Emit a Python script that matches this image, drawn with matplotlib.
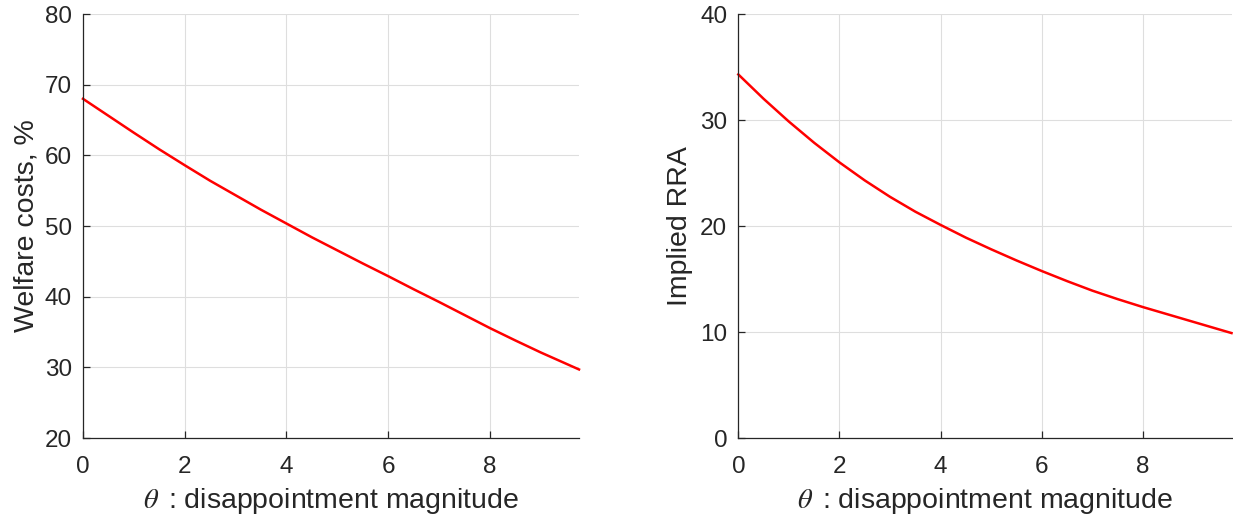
import matplotlib.pyplot as plt

# values
theta = [0, 0.5, 1, 1.5, 2, 2.5, 3, 3.5, 4, 4.5, 5, 5.5, 6, 6.5, 7, 7.5, 8, 8.5, 9, 9.5, 9.75]
welfare_costs = [68.0, 65.6, 63.2, 60.85, 58.6, 56.4, 54.35, 52.3, 50.35, 48.4, 46.55,
                 44.7, 42.9, 41.05, 39.25, 37.4, 35.55, 33.8, 32.1, 30.5, 29.7]
implied_rra = [34.3, 32.0, 29.85, 27.85, 26.0, 24.3, 22.75, 21.35, 20.1, 18.9, 17.8,
               16.75, 15.75, 14.8, 13.9, 13.1, 12.35, 11.65, 10.95, 10.25, 9.9]

x_ticks = [0, 2, 4, 6, 8]
xlabel = r"$\theta\,$ : disappointment magnitude"

plt.rcParams["font.family"] = ["Liberation Sans", "DejaVu Sans"]
plt.rcParams["mathtext.fontset"] = "stix"

TXT = "#262626"
GRID = "#dedede"

fig = plt.figure(figsize=(12.33, 5.21), dpi=100)
ax1 = fig.add_axes([0.0673, 0.1593, 0.4023, 0.8138])
ax2 = fig.add_axes([0.5988, 0.1593, 0.4000, 0.8138])


def style(ax, ylim, yticks, ylabel, ypad):
    ax.set_xlim(0, 9.75)
    ax.set_ylim(*ylim)
    ax.set_xticks(x_ticks)
    ax.set_yticks(yticks)
    ax.grid(True, color=GRID, linewidth=0.8)
    ax.set_axisbelow(True)
    for s in ("top", "right"):
        ax.spines[s].set_visible(False)
    for s in ("left", "bottom"):
        ax.spines[s].set_color(TXT)
        ax.spines[s].set_linewidth(0.9)
    ax.tick_params(direction="in", length=5, width=0.9, colors=TXT, labelsize=17.5)
    ax.tick_params(axis="x", pad=13)
    ax.tick_params(axis="y", pad=8)
    ax.set_xlabel(xlabel, fontsize=20.5, color=TXT, labelpad=6)
    ax.set_ylabel(ylabel, fontsize=20.5, color=TXT, labelpad=ypad)


ax1.plot(theta, welfare_costs, color="red", linewidth=1.8, clip_on=False)
style(ax1, (20, 80), [20, 30, 40, 50, 60, 70, 80], "Welfare costs, %", 4)

ax2.plot(theta, implied_rra, color="red", linewidth=1.8, clip_on=False)
style(ax2, (0, 40), [0, 10, 20, 30, 40], "Implied RRA", 5)

fig.savefig("out.png", dpi=100)
